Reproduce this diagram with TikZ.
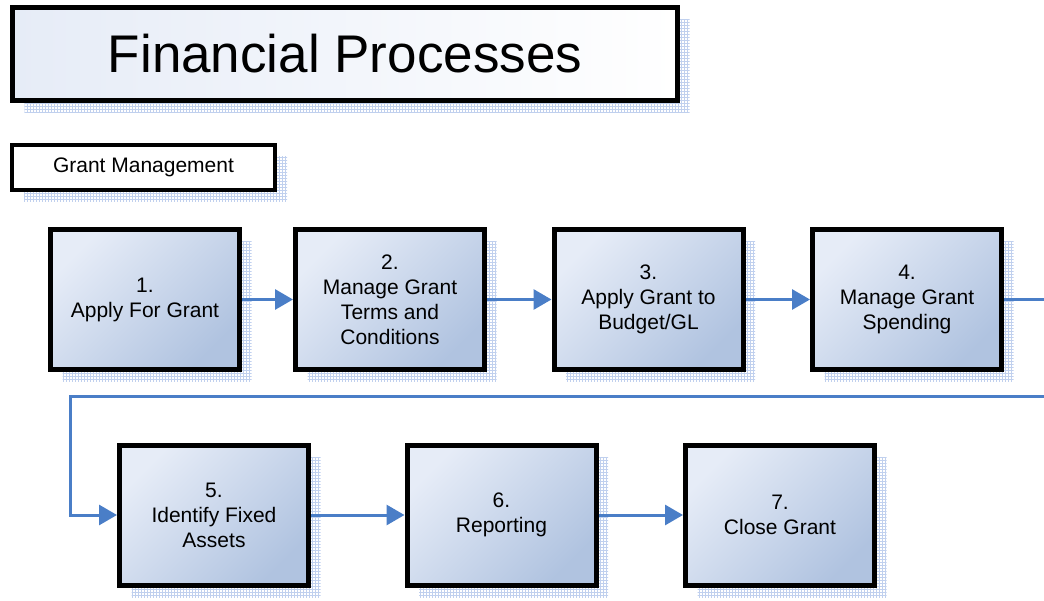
\documentclass[tikz,border=0pt]{standalone}
\usepackage{fontspec}
\setmainfont{Liberation Sans}
\usetikzlibrary{arrows.meta,shadows,patterns}
\definecolor{flowblue}{RGB}{74,126,199}
\definecolor{shadowblue}{RGB}{192,208,238}
\definecolor{shadowfill}{RGB}{232,239,250}
\definecolor{gradtop}{RGB}{230,236,247}
\definecolor{gradbot}{RGB}{176,195,224}
\begin{document}
\begin{tikzpicture}[x=1pt,y=1pt,
    dotshadow/.style={general shadow={shadow xshift=12pt,shadow yshift=-12pt,
        fill=shadowfill,pattern=grid,pattern color=shadowblue}},
    stepbox/.style={draw=black,line width=5pt,dotshadow,
        top color=gradtop,bottom color=gradbot,shading angle=45,
        minimum width=189pt,minimum height=140pt,align=center,
        font=\fontsize{21}{25}\selectfont},
    flow/.style={draw=flowblue,line width=3pt,-{Triangle[length=18pt,width=20pt]}}]
    \useasboundingbox (0,0) rectangle (1044,-601);
    % headings
    \node [draw=black,line width=5pt,dotshadow,left color=gradtop,right color=white,
        minimum width=665pt,minimum height=93pt,font=\fontsize{53}{60}\selectfont]
        (title) at (345,-54) {Financial Processes};
    \node [draw=black,line width=4pt,dotshadow,fill=white,
        minimum width=263pt,minimum height=45pt,font=\fontsize{21}{25}\selectfont]
        (group) at (143.5,-167.5) {Grant Management};
    % steps
    \node [stepbox] (apply) at (145,-299.5) {1.\\Apply For Grant};
    \node [stepbox] (terms) at (390,-299.5) {2.\\Manage Grant\\Terms and\\Conditions};
    \node [stepbox] (budget) at (648.5,-299.5) {3.\\Apply Grant to\\Budget/GL};
    \node [stepbox] (spend) at (907,-299.5) {4.\\Manage Grant\\Spending};
    \node [stepbox] (assets) at (214,-515) {5.\\Identify Fixed\\Assets};
    \node [stepbox] (report) at (501.5,-515) {6.\\Reporting};
    \node [stepbox] (close) at (780,-515) {7.\\Close Grant};
    % flow
    \coordinate (wrapright) at (1070,-397);
    \coordinate (wrapleft) at (70,-397);
    \draw [flow] (apply) -- (terms);
    \draw [flow] (terms) -- (budget);
    \draw [flow] (budget) -- (spend);
    \draw [flow] (spend.east) -- (spend.east -| wrapright) -- (wrapright) -- (wrapleft)
        -- (wrapleft |- assets.west) -- (assets.west);
    \draw [flow] (assets) -- (report);
    \draw [flow] (report) -- (close);
\end{tikzpicture}
\end{document}
